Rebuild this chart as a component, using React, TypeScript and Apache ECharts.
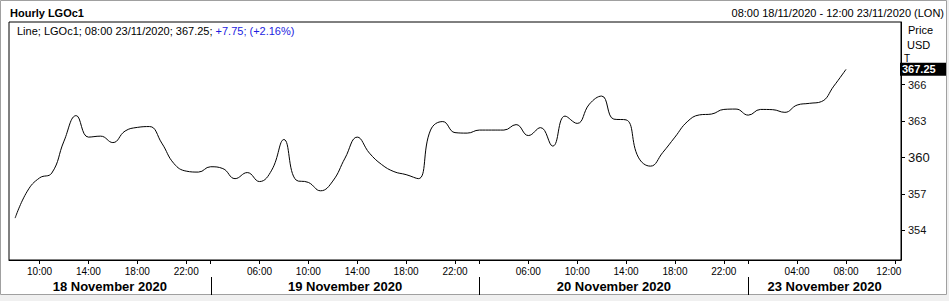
import React, { useEffect, useRef } from "react";
import * as echarts from "echarts";

const FONT = "'Liberation Sans', Arial, sans-serif";

const dayKeys = ["18", "19", "20", "23"];
const dayLabels = ["18 November 2020", "19 November 2020", "20 November 2020", "23 November 2020"];
const dayFirstHour = [8, 2, 2, 0];
const dayLastHour = [23, 23, 23, 12];

const shownTicks = [
  "18 10:00", "18 14:00", "18 18:00", "18 22:00",
  "19 06:00", "19 10:00", "19 14:00", "19 18:00", "19 22:00",
  "20 06:00", "20 10:00", "20 14:00", "20 18:00", "20 22:00",
  "23 04:00", "23 08:00", "23 12:00",
];

const yTickValues = [354, 357, 360, 363, 366];

const prices = [
  355.0, 357.22, 358.31, 358.71, 361.34, 363.44, 361.67, 361.75, 361.22, 362.17,
  362.47, 362.54, 361.18, 359.49, 358.87, 358.79,
  359.23, 359.08, 358.25, 358.75, 358.01, 358.95, 361.47, 358.13, 357.94, 357.25,
  358.05, 359.94, 361.67, 360.35, 359.41, 358.83, 358.58, 358.25, 362.25, 362.95,
  362.04, 362.0,
  362.25, 362.25, 362.25, 362.7, 361.8, 362.45, 360.93, 363.4, 362.8, 364.39,
  365.05, 363.15, 363.09, 360.02, 359.28, 360.4, 361.67, 362.93, 363.5, 363.57,
  363.95, 363.98,
  363.48, 363.95, 363.93, 363.71, 364.31, 364.45, 364.6, 365.87, 367.25,
];

const pad = (n: number) => (n < 10 ? "0" + n : "" + n);
const categories: string[] = [];
const dayStartIndex: number[] = [];
dayKeys.forEach((d, i) => {
  dayStartIndex.push(categories.length);
  for (let h = dayFirstHour[i]; h <= dayLastHour[i]; h++) categories.push(d + " " + pad(h) + ":00");
});

export default function App() {
  const ref = useRef<HTMLDivElement>(null);
  useEffect(() => {
    if (!ref.current) return;
    const chart = echarts.init(ref.current, null, { renderer: "svg" });
    const gridLeft = 9, gridRight = 901, gridTop = 22, gridBottom = 260;
    const isSeparator = (idx: number) => idx > 0 && dayStartIndex.indexOf(idx) >= 0;
    const lastCat = categories[categories.length - 1];
    chart.setOption({
      animation: false,
      backgroundColor: "#fff",
      grid: {
        left: gridLeft,
        right: 949 - gridRight,
        top: gridTop,
        bottom: 301 - gridBottom,
        show: true,
        borderColor: "#000",
        borderWidth: 1,
        backgroundColor: "#fff",
      },
      xAxis: {
        type: "category",
        data: categories,
        boundaryGap: true,
        axisLine: { show: true, lineStyle: { color: "#000", width: 1 } },
        axisTick: {
          show: true,
          alignWithLabel: true,
          length: 4,
          lineStyle: { color: "#000" },
          interval: (idx: number, v: string) => shownTicks.indexOf(v) >= 0 || isSeparator(idx),
        },
        axisLabel: {
          interval: (_idx: number, v: string) => shownTicks.indexOf(v) >= 0,
          formatter: (v: string) => (v === lastCat ? "{r|" + v.slice(3) + "}" : v.slice(3)),
          rich: { r: { fontFamily: FONT, fontSize: 10, color: "#000", padding: [0, 12, 0, 0] } },
          fontFamily: FONT,
          fontSize: 10,
          color: "#000",
          margin: 6,
        },
        splitLine: { show: false },
      },
      yAxis: {
        type: "value",
        position: "right",
        min: 351.55,
        max: 371.15,
        axisLine: { show: true, lineStyle: { color: "#000" } },
        axisTick: { show: true, length: 4, lineStyle: { color: "#000" }, customValues: yTickValues },
        axisLabel: {
          customValues: yTickValues,
          fontFamily: FONT,
          fontSize: 11,
          color: "#111",
          margin: 7,
          formatter: (v: number) => (v === 360 ? "{big|360}" : String(v)),
          rich: { big: { fontSize: 13, fontFamily: FONT, color: "#111" } },
        },
        splitLine: { show: false },
      },
      series: [
        {
          type: "line",
          data: prices,
          smooth: 0.45,
          showSymbol: false,
          symbol: "none",
          lineStyle: { color: "#000", width: 1 },
        },
      ],
    });

    const px = (i: number) => chart.convertToPixel({ xAxisIndex: 0 }, i) as number;
    const last = prices[prices.length - 1];
    const lastY = chart.convertToPixel({ yAxisIndex: 0 }, last) as number;

    const graphics: any[] = [];
    graphics.push({ type: "rect", shape: { x: 0, y: 295, width: 949, height: 6 }, style: { fill: "#f0f0f0" }, silent: true });
    graphics.push({ type: "rect", shape: { x: 947, y: 0, width: 2, height: 301 }, style: { fill: "#f0f0f0" }, silent: true });
    graphics.push({ type: "rect", shape: { x: 0.5, y: 0.5, width: 946, height: 294 }, style: { fill: "none", stroke: "#a0a0a0", lineWidth: 1 }, silent: true });

    graphics.push({ type: "text", x: 10, y: 13, style: { text: "Hourly LGOc1", font: `bold 11px ${FONT}`, fill: "#000", verticalAlign: "middle" } });
    graphics.push({ type: "text", x: 944, y: 13, style: { text: "08:00 18/11/2020 - 12:00 23/11/2020 (LON)", font: `11px ${FONT}`, fill: "#000", align: "right", verticalAlign: "middle" } });
    graphics.push({
      type: "text", x: 17, y: 31,
      style: {
        text: "{a|Line; LGOc1; 08:00 23/11/2020; 367.25; }{b|+7.75; (+2.16%)}",
        verticalAlign: "middle",
        rich: {
          a: { fontFamily: FONT, fontSize: 11, fill: "#000", color: "#000" },
          b: { fontFamily: FONT, fontSize: 11, fill: "#1c1ce0", color: "#1c1ce0" },
        },
      },
    });
    graphics.push({ type: "text", x: 908, y: 30, style: { text: "Price", font: `11px ${FONT}`, fill: "#000", verticalAlign: "middle" } });
    graphics.push({ type: "text", x: 907, y: 45, style: { text: "USD", font: `11px ${FONT}`, fill: "#000", verticalAlign: "middle" } });
    graphics.push({ type: "text", x: 904, y: 58, style: { text: "T", font: `10px ${FONT}`, fill: "#000", verticalAlign: "middle" } });
    graphics.push({ type: "rect", shape: { x: 900, y: lastY - 6.5, width: 46, height: 13 }, style: { fill: "#000" } });
    graphics.push({ type: "text", x: 902, y: lastY, style: { text: String(last.toFixed(2)), font: `bold 11px ${FONT}`, fill: "#fff", verticalAlign: "middle" } });

    const bounds: number[] = [gridLeft];
    for (let i = 1; i < dayStartIndex.length; i++) bounds.push(px(dayStartIndex[i]));
    bounds.push(gridRight);
    for (let i = 1; i < dayStartIndex.length; i++) {
      const x = Math.round(bounds[i]) + 0.5;
      graphics.push({ type: "line", shape: { x1: x, y1: 277, x2: x, y2: 295 }, style: { stroke: "#000", lineWidth: 1 } });
    }
    dayLabels.forEach((lbl, i) => {
      graphics.push({
        type: "text",
        x: (bounds[i] + bounds[i + 1]) / 2,
        y: 286,
        style: { text: lbl, font: `bold 13px ${FONT}`, fill: "#000", align: "center", verticalAlign: "middle" },
      });
    });

    chart.setOption({ graphic: graphics });
    return () => chart.dispose();
  }, []);
  return <div ref={ref} style={{ position: "fixed", left: 0, top: 0, width: 949, height: 301 }} />;
}
